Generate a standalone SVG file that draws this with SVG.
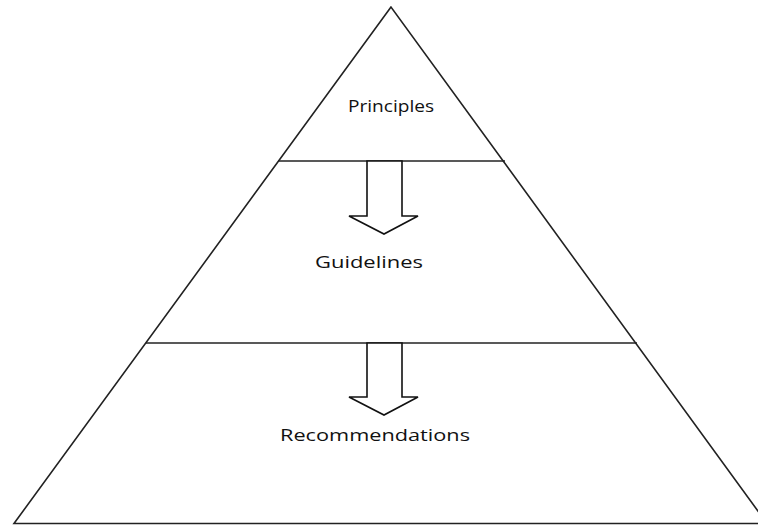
<svg xmlns="http://www.w3.org/2000/svg" width="758" height="526" viewBox="0 0 758 526">
<style>
.ln{fill:none;stroke:#222;stroke-width:1.6}
.ar{fill:#fff;stroke:#111;stroke-width:1.6;stroke-linejoin:miter}
.t{font-family:"Open Sans","Liberation Sans",sans-serif;font-size:17px;fill:#111}
</style>
<rect width="758" height="526" fill="#fff"/>
<g id="pyramid">
<polygon class="ln" points="391,7 14,523.5 767,523.5"/>
</g>
<g id="levels">
<line class="ln" x1="278" y1="161" x2="505" y2="161"/>
<line class="ln" x1="146" y1="343" x2="637" y2="343"/>
</g>
<g id="connectors">
<polygon class="ar" points="367,161 402,161 402,216 418,216 384,234 349,216 367,216"/>
<polygon class="ar" points="367,343 402,343 402,397 418,397 384,415 349,397 367,397"/>
</g>
<g id="principles"><text class="t" x="348" y="112" textLength="86" lengthAdjust="spacingAndGlyphs">Principles</text></g>
<g id="guidelines"><text class="t" x="315" y="268" textLength="108" lengthAdjust="spacingAndGlyphs">Guidelines</text></g>
<g id="recommendations"><text class="t" x="280" y="441" textLength="190" lengthAdjust="spacingAndGlyphs">Recommendations</text></g>
</svg>
